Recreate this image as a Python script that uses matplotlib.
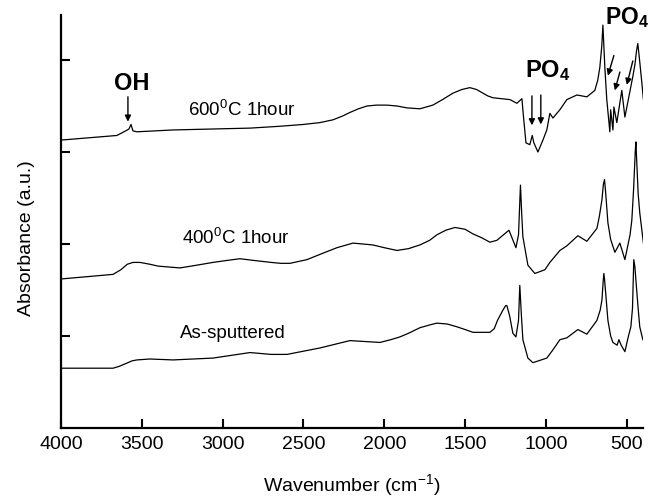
import matplotlib
matplotlib.use('Agg')
import matplotlib.pyplot as plt

plt.rcParams['font.family'] = ['Liberation Sans', 'DejaVu Sans']
plt.rcParams['mathtext.fontset'] = 'custom'
plt.rcParams['mathtext.rm'] = 'Liberation Sans'
plt.rcParams['mathtext.bf'] = 'Liberation Sans:bold'

# spectra (wavenumber in cm-1, absorbance in a.u.)
wn_as = [4000, 3800, 3678, 3640, 3600, 3560, 3530, 3450, 3307, 3060, 2831, 2700, 2602,
         2398, 2213, 2027, 1960, 1904, 1850, 1780, 1720, 1675, 1610, 1551, 1500, 1452,
         1347, 1320, 1300, 1270, 1250, 1242, 1225, 1205, 1186, 1170, 1162, 1152, 1143,
         1112, 1081, 995, 957, 914, 871, 803, 747, 685, 665, 654, 646, 642, 637, 630, 617,
         600, 586, 560, 549, 535, 512, 490, 475, 465, 457, 450, 444, 430, 420, 401]
ab_as = [0.65, 0.65, 0.65, 0.67, 0.70, 0.73, 0.74, 0.75, 0.74, 0.76, 0.82, 0.80, 0.80,
         0.87, 0.95, 0.93, 0.96, 0.99, 1.03, 1.09, 1.12, 1.14, 1.13, 1.10, 1.07, 1.04,
         1.04, 1.08, 1.17, 1.27, 1.33, 1.33, 1.22, 1.03, 0.99, 1.17, 1.55, 1.22, 0.96,
         0.76, 0.71, 0.76, 0.85, 0.96, 0.98, 1.07, 1.02, 1.17, 1.28, 1.39, 1.60, 1.68, 1.60, 1.45, 1.17,
         1.00, 0.93, 0.90, 0.96, 0.90, 0.83, 1.00, 1.10, 1.30, 1.83, 1.75, 1.61, 1.30, 1.10, 0.96]

wn_400 = [4000, 3678, 3630, 3590, 3555, 3511, 3450, 3400, 3264, 3160, 3060, 2980, 2893,
          2800, 2700, 2640, 2584, 2479, 2380, 2293, 2194, 2071, 2000, 1922, 1850, 1780,
          1720, 1675, 1620, 1563, 1500, 1452, 1400, 1347, 1304, 1229, 1186, 1170, 1158,
          1150, 1143, 1112, 1069, 1007, 976, 914, 871, 803, 747, 685, 670, 654, 645, 638,
          632, 625, 617, 600, 574, 543, 512, 480, 469, 458, 448, 444, 440, 430, 420, 396]
ab_400 = [1.62, 1.67, 1.72, 1.78, 1.80, 1.80, 1.78, 1.76, 1.74, 1.77, 1.80, 1.82, 1.84,
          1.82, 1.80, 1.79, 1.79, 1.83, 1.90, 1.96, 2.01, 1.99, 1.96, 1.93, 1.95, 1.99,
          2.04, 2.10, 2.15, 2.18, 2.16, 2.11, 2.07, 2.02, 2.04, 2.15, 1.96, 2.10, 2.64,
          2.32, 2.08, 1.77, 1.68, 1.72, 1.80, 1.93, 1.98, 2.09, 2.03, 2.17, 2.30, 2.48, 2.65, 2.70,
          2.58, 2.42, 2.23, 2.05, 1.91, 2.01, 1.83, 2.10, 2.26, 2.60, 3.00, 3.11, 2.95, 2.55, 2.34, 1.99]

wn_600 = [4000, 3654, 3600, 3580, 3567, 3555, 3530, 3307, 2831, 2646, 2500, 2398, 2318,
          2260, 2213, 2160, 2108, 2050, 1984, 1920, 1860, 1780, 1700, 1640, 1576, 1520,
          1471, 1430, 1390, 1360, 1328, 1223, 1180, 1149, 1140, 1124, 1100, 1085, 1075,
          1050, 1019, 995, 976, 957, 914, 871, 809, 747, 698, 680, 667, 655, 648, 642, 636,
          624, 605, 600, 586, 580, 562, 531, 512, 463, 450, 440, 432, 420, 407, 395]
ab_600 = [3.13, 3.18, 3.23, 3.25, 3.30, 3.23, 3.22, 3.24, 3.26, 3.28, 3.30, 3.32, 3.35,
          3.39, 3.43, 3.47, 3.50, 3.51, 3.51, 3.50, 3.48, 3.47, 3.51, 3.57, 3.64, 3.68,
          3.70, 3.68, 3.64, 3.61, 3.59, 3.57, 3.53, 3.58, 3.40, 3.10, 3.08, 3.18, 3.10,
          3.00, 3.13, 3.24, 3.42, 3.37, 3.46, 3.57, 3.62, 3.60, 3.67, 3.78, 3.92, 4.15, 4.38, 4.15, 3.92,
          3.57, 3.22, 3.46, 3.24, 3.49, 3.32, 3.67, 3.38, 3.82, 3.95, 4.10, 4.18, 3.98, 3.75, 3.53]

fig = plt.figure(figsize=(6.51, 4.99), dpi=100)
ax = fig.add_axes([0.0937, 0.1423, 0.8940, 0.8277])

for wn, ab in [(wn_as, ab_as), (wn_400, ab_400), (wn_600, ab_600)]:
    ax.plot(wn, ab, color='black', lw=0.9)

ax.set_xlim(4000, 400)
ax.set_ylim(0, 4.49)
ax.set_xticks([4000, 3500, 3000, 2500, 2000, 1500, 1000, 500])
ax.set_yticks([1, 2, 3, 4])
ax.set_yticklabels([])
ax.tick_params(direction='in', length=6.5, width=1.5, labelsize=14, pad=6)
ax.spines['top'].set_visible(False)
ax.spines['right'].set_visible(False)
for s in ['left', 'bottom']:
    ax.spines[s].set_linewidth(1.6)

ax.set_xlabel('Wavenumber (cm$^{-1}$)', fontsize=14, labelpad=14)
ax.set_ylabel('Absorbance (a.u.)', fontsize=14)
ax.yaxis.set_label_coords(-0.045, 0.46)

# curve labels
ax.text(2881, 3.46, '600$^0$C 1hour', fontsize=13.5, ha='center', va='center')
ax.text(2918, 2.07, '400$^0$C 1hour', fontsize=13.5, ha='center', va='center')
ax.text(2936, 1.03, 'As-sputtered', fontsize=13.5, ha='center', va='center')

# band assignments
ax.text(3561, 3.75, 'OH', fontsize=17, fontweight='bold', ha='center', va='center')
ax.text(988, 3.89, r'$\mathbf{PO_4}$', fontsize=17, ha='center', va='center')
ax.text(500, 4.46, r'$\mathbf{PO_4}$', fontsize=16.5, ha='center', va='center', clip_on=False)

arrow = dict(arrowstyle='-|>', color='black', lw=1, mutation_scale=9, shrinkA=0, shrinkB=0)
ax.annotate('', xy=(3586, 3.33), xytext=(3586, 3.60), arrowprops=arrow)
ax.annotate('', xy=(1087, 3.29), xytext=(1087, 3.61), arrowprops=arrow)
ax.annotate('', xy=(1032, 3.30), xytext=(1032, 3.62), arrowprops=arrow)
ax.annotate('', xy=(617, 3.83), xytext=(580, 4.05), arrowprops=arrow)
ax.annotate('', xy=(574, 3.67), xytext=(543, 3.87), arrowprops=arrow)
ax.annotate('', xy=(500, 3.73), xytext=(463, 3.99), arrowprops=arrow)

plt.savefig('out.png', dpi=100)
plt.close()
